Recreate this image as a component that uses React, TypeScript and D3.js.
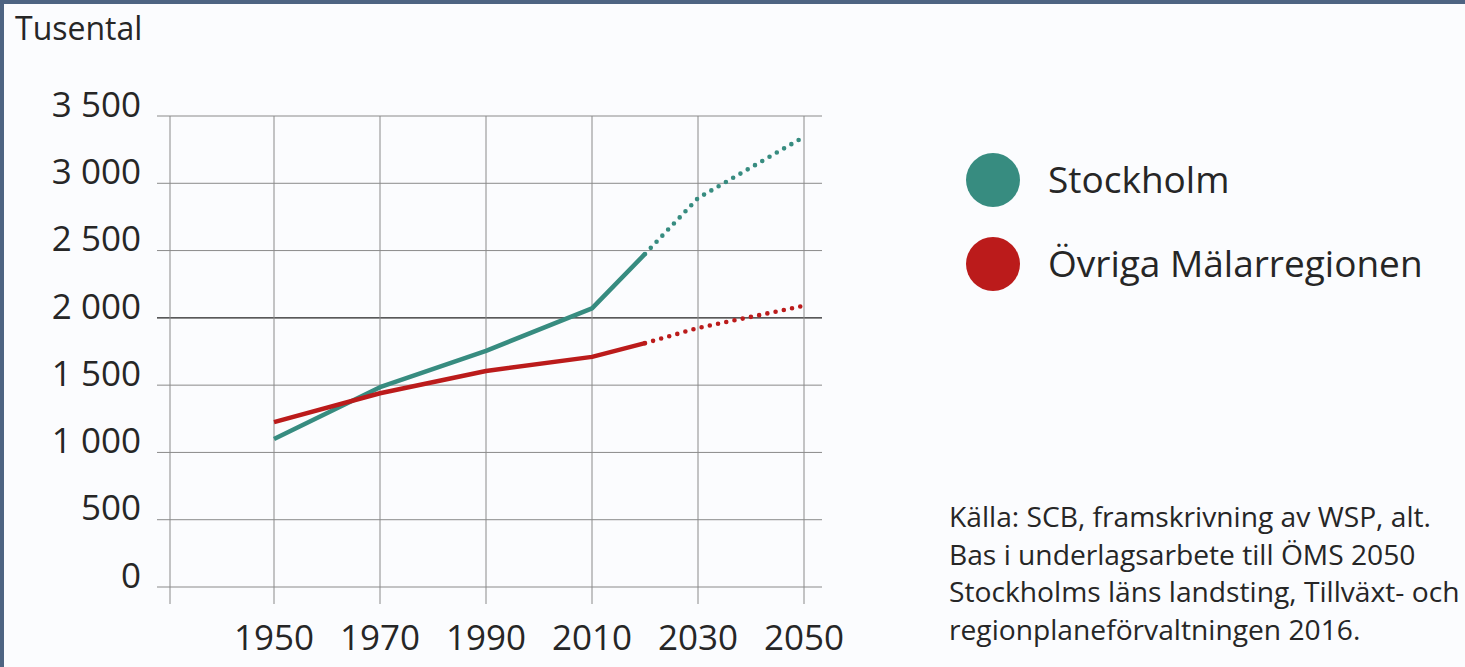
import React from "react";
import * as d3 from "d3";

const years = [1950, 1970, 1990, 2010, 2020, 2030, 2050];
const stockholm = [1100, 1485, 1755, 2070, 2475, 2890, 3345];
const ovriga = [1225, 1440, 1605, 1710, 1812, 1925, 2090];
const projectionStart = 2020;
const yTicks = [0, 500, 1000, 1500, 2000, 2500, 3000, 3500];
const xTicks = [1950, 1970, 1990, 2010, 2030, 2050];
const seriesNames = ["Stockholm", "Övriga Mälarregionen"];
const seriesColors = ["#378c80", "#bb1b1b"];
const sourceLines = [
  "Källa: SCB, framskrivning av WSP, alt.",
  "Bas i underlagsarbete till ÖMS 2050",
  "Stockholms läns landsting, Tillväxt- och",
  "regionplaneförvaltningen 2016.",
];

const W = 1465;
const H = 667;
const font = "'Open Sans', 'Noto Sans', sans-serif";
const textColor = "#262626";

export default function App() {
  const x = d3.scaleLinear().domain([1950, 2050]).range([274, 804]);
  const y = d3.scaleLinear().domain([0, 3500]).range([587, 116]);
  const line = d3
    .line<[number, number]>()
    .x((d) => x(d[0]))
    .y((d) => y(d[1]));
  const fmt = (v: number) =>
    v >= 1000 ? `${Math.floor(v / 1000)} ${String(v % 1000).padStart(3, "0")}` : String(v);

  const series = [stockholm, ovriga].map((vals) => {
    const pts: [number, number][] = years.map((yr, i) => [yr, vals[i]]);
    return {
      solid: pts.filter((p) => p[0] <= projectionStart),
      dotted: pts.filter((p) => p[0] >= projectionStart),
    };
  });

  const gridLeft = 157;
  const gridRight = 822;
  const vLines = [1930, ...xTicks];

  return (
    <svg
      width={W}
      height={H}
      style={{ position: "absolute", left: 0, top: 0, background: "#fbfcfe" }}
      fontFamily={font}
    >
      <rect x={0} y={0} width={W} height={H} fill="#fbfcfe" />
      <rect x={0} y={0} width={W} height={4} fill="#4e6482" />
      <rect x={0} y={0} width={4} height={H} fill="#4e6482" />

      <text x={15} y={40} fontSize={32} fill={textColor}>
        Tusental
      </text>

      {yTicks.map((t) => (
        <g key={t}>
          <line
            x1={gridLeft}
            x2={gridRight}
            y1={y(t)}
            y2={y(t)}
            stroke={t === 2000 ? "#222" : "#8a8a8a"}
            strokeWidth={t === 2000 ? 1.3 : 1}
          />
          <text
            x={141}
            y={y(t)}
            dy="0.02em"
            textAnchor="end"
            fontSize={35}
            fill={textColor}
          >
            {fmt(t)}
          </text>
        </g>
      ))}

      {vLines.map((v) => (
        <line
          key={v}
          x1={v === 1930 ? 170 : x(v)}
          x2={v === 1930 ? 170 : x(v)}
          y1={y(3500)}
          y2={604}
          stroke="#8a8a8a"
          strokeWidth={1}
        />
      ))}

      {xTicks.map((t) => (
        <text key={t} x={x(t)} y={650} textAnchor="middle" fontSize={35} fill={textColor}>
          {t}
        </text>
      ))}

      {series.map((s, i) => (
        <g key={i}>
          <path
            d={line(s.solid) || ""}
            fill="none"
            stroke={seriesColors[i]}
            strokeWidth={4.5}
            strokeLinejoin="round"
          />
          <path
            d={line(s.dotted) || ""}
            fill="none"
            stroke={seriesColors[i]}
            strokeWidth={4.6}
            strokeLinecap="round"
            strokeDasharray="0 8.4"
          />
        </g>
      ))}

      {seriesNames.map((n, i) => (
        <g key={n}>
          <circle cx={993} cy={180 + i * 84} r={27} fill={seriesColors[i]} />
          <text x={1048} y={180 + i * 84} dy="0.35em" fontSize={37} fill={textColor}>
            {n}
          </text>
        </g>
      ))}

      {sourceLines.map((l, i) => (
        <text key={i} x={949} y={527 + i * 37.5} fontSize={28.2} fill={textColor}>
          {l}
        </text>
      ))}
    </svg>
  );
}
